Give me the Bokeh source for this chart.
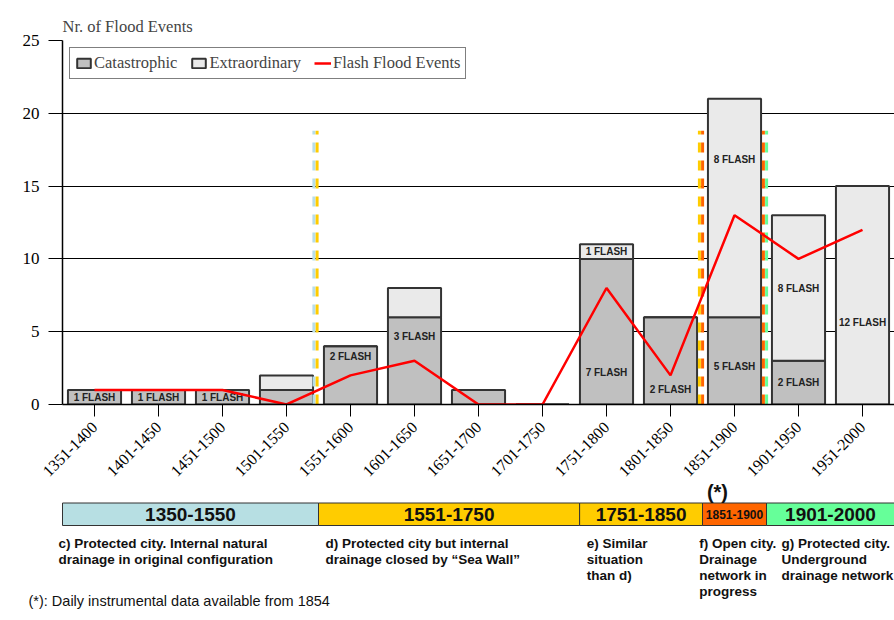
import math
from bokeh.plotting import figure
from bokeh.models import (ColumnDataSource, FactorRange, Range1d, Legend, LegendItem,
                          SingleIntervalTicker)
from bokeh.layouts import column, row
from bokeh.core.properties import value
from bokeh.embed import file_html
from bokeh.resources import INLINE

# ---------------- data ----------------
periods = ["1351-1400", "1401-1450", "1451-1500", "1501-1550", "1551-1600",
           "1601-1650", "1651-1700", "1701-1750", "1751-1800", "1801-1850",
           "1851-1900", "1901-1950", "1951-2000"]
catastrophic = [1, 1, 1, 1, 4, 6, 1, 0, 10, 6, 6, 3, 0]
extraordinary = [0, 0, 0, 1, 0, 2, 0, 0, 1, 0, 15, 10, 15]
flash_events = [1, 1, 1, 0, 2, 3, 0, 0, 8, 2, 13, 10, 12]

flash_label_period = ["1351-1400", "1401-1450", "1451-1500", "1551-1600", "1601-1650",
                      "1751-1800", "1751-1800", "1801-1850", "1851-1900", "1851-1900",
                      "1901-1950", "1901-1950", "1951-2000"]
flash_label_text = ["1 FLASH", "1 FLASH", "1 FLASH", "2 FLASH", "3 FLASH",
                    "7 FLASH", "1 FLASH", "2 FLASH", "5 FLASH", "8 FLASH",
                    "2 FLASH", "8 FLASH", "12 FLASH"]
flash_label_y = [0.5, 0.5, 0.45, 3.3, 4.65, 2.2, 10.5, 1.03, 2.6, 16.8, 1.5, 8.0, 5.6]

# period changes (category boundaries) drawn as two-tone dashed lines
change_boundary = [4, 10, 11]
change_top = [18.8, 18.8, 18.8]
change_left_color = ["#b7dde8", "#ffcc00", "#ff6600"]
change_right_color = ["#ffcc00", "#ff6600", "#66ff99"]

# phases band
phase_labels = ["1350-1550", "1551-1750", "1751-1850", "1851-1900", "1901-2000"]
phase_start = [0, 4, 8.08, 10, 11]
phase_end = [4, 8.08, 10, 11, 13]
phase_colors = ["#b7dfe3", "#ffcc00", "#ffcc00", "#ff6600", "#66ff99"]
phase_label_size = ["19px", "19px", "19px", "12px", "19px"]

phase_desc = [
    ["c) Protected city. Internal natural", "drainage  in original configuration"],
    ["d) Protected city but internal", "drainage closed by \u201cSea Wall\u201d"],
    ["e) Similar", "situation", "than d)"],
    ["f) Open city.", "Drainage", "network in", "progress"],
    ["g) Protected city.", "Underground", "drainage network"],
]
phase_desc_x = [-0.0625, 4.11, 8.19, 9.95, 11.235]
star_note = "(*)"
star_x = 10.234
footnote = "(*): Daily instrumental data available from 1854"

SERIF = "Liberation Serif"
SANS = "Liberation Sans"
PX = 1 / 64  # one pixel in category units

# ---------------- main chart ----------------
src = ColumnDataSource(dict(period=periods, catastrophic=catastrophic,
                            extraordinary=extraordinary, flash=flash_events))

p = figure(x_range=FactorRange(factors=periods), y_range=Range1d(0, 25),
           width=894, height=502, output_backend="svg", toolbar_location=None,
           min_border_left=62, min_border_right=0, min_border_top=40, min_border_bottom=98)

p.title.text = "Nr. of Flood Events"
p.title.text_font = SERIF
p.title.text_font_size = "16.5px"
p.title.text_font_style = "normal"
p.title.align = "left"
p.title.standoff = 10

bars = p.vbar_stack(["catastrophic", "extraordinary"], x="period", width=0.83, source=src,
                    fill_color=["#c0c0c0", "#eaeaea"], line_color="#333333", line_width=2)

for k, (b, top, cl, cr) in enumerate(zip(change_boundary, change_top,
                                         change_left_color, change_right_color)):
    shift = -3 * PX if k == 0 else -1.5 * PX
    p.segment(x0=[b + shift - 1.6 * PX], y0=[0], x1=[b + shift - 1.6 * PX], y1=[top],
              line_color=cl, line_width=3, line_dash="10 8")
    p.segment(x0=[b + shift + 1.6 * PX], y0=[0], x1=[b + shift + 1.6 * PX], y1=[top],
              line_color=cr, line_width=3, line_dash="10 8")

p.text(x=flash_label_period, y=flash_label_y, text=flash_label_text,
       text_font=value(SANS), text_font_style="bold", text_font_size="10px",
       text_align="center", text_baseline="middle", text_color="#222222")

flash_line = p.line(x="period", y="flash", source=src, line_color="#ff0000", line_width=2.5)

legend = Legend(items=[LegendItem(label="Catastrophic", renderers=[bars[0]]),
                       LegendItem(label="Extraordinary", renderers=[bars[1]]),
                       LegendItem(label="Flash Flood Events", renderers=[flash_line])],
                orientation="horizontal", location="top_left")
legend.label_text_font = SERIF
legend.label_text_font_size = "16.5px"
legend.label_standoff = 2
legend.glyph_width = 17
legend.glyph_height = 12
legend.label_height = 20
legend.spacing = 13
legend.padding = 5
legend.margin = 7
legend.border_line_color = "black"
legend.border_line_width = 1
legend.background_fill_alpha = 1
p.add_layout(legend)

p.xgrid.visible = False
p.ygrid.grid_line_color = "black"
p.ygrid.grid_line_width = 1
p.outline_line_color = None

p.yaxis.ticker = SingleIntervalTicker(interval=5)
p.yaxis.minor_tick_line_color = None
p.yaxis.major_tick_out = 14
p.yaxis.major_tick_in = 0
p.yaxis.major_label_text_font = SERIF
p.yaxis.major_label_text_font_size = "17px"
p.yaxis.major_label_text_color = "black"
p.yaxis.major_label_standoff = 9
p.yaxis.axis_line_width = 1.5

p.xaxis.major_label_orientation = math.pi / 4
p.xaxis.major_label_text_font = SERIF
p.xaxis.major_label_text_font_size = "16px"
p.xaxis.major_label_text_color = "black"
p.xaxis.major_tick_out = 12
p.xaxis.major_tick_in = 0
p.xaxis.major_label_standoff = 8
p.xaxis.axis_line_width = 1.5

# ---------------- phases band (overlaps the axis-label area, transparent) ----------------
q = figure(x_range=Range1d(-62 / 64, 13), y_range=Range1d(140, 0),
           width=894, height=140, output_backend="svg", toolbar_location=None,
           x_axis_location=None, y_axis_location=None,
           min_border_left=0, min_border_right=0, min_border_top=0, min_border_bottom=0)
q.grid.visible = False
q.outline_line_color = None
q.background_fill_color = None
q.border_fill_color = None

q.quad(left=phase_start, right=phase_end, top=[24.5] * len(phase_start),
       bottom=[47] * len(phase_start), fill_color=phase_colors,
       line_color="#333333", line_width=1)
q.text(x=[(a + b) / 2 for a, b in zip(phase_start, phase_end)], y=[35.8] * len(phase_labels),
       text=phase_labels, text_font=value(SANS), text_font_style="bold",
       text_font_size=phase_label_size, text_align="center", text_baseline="middle",
       text_color="#111111")

q.text(x=[star_x], y=[13], text=[star_note], text_font=value(SANS),
       text_font_style="bold", text_font_size="20px", text_align="center",
       text_baseline="middle", text_color="#111111")

dx, dy, dt = [], [], []
for x0, lines in zip(phase_desc_x, phase_desc):
    for i, t in enumerate(lines):
        dx.append(x0)
        dy.append(64.5 + i * 16.3)
        dt.append(t)
q.text(x=dx, y=dy, text=dt, text_font=value(SANS), text_font_style="bold",
       text_font_size="13.5px", text_align="left", text_baseline="middle", text_color="#111111")

q.text(x=[(28 - 62) / 64], y=[122], text=[footnote], text_font=value(SANS),
       text_font_size="14.5px", text_align="left", text_baseline="middle", text_color="#111111")

band_row = row(q)
band_row.margin = (-24, 0, 0, 0)
layout = column(p, band_row)
open("out.html", "w").write(file_html(layout, INLINE))
